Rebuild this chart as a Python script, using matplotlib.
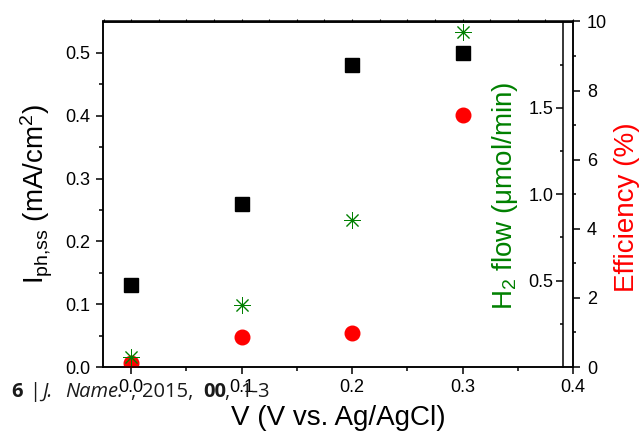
import matplotlib
matplotlib.use('Agg')
import matplotlib.pyplot as plt
import numpy as np

plt.rcParams['font.family'] = 'Liberation Sans'
plt.rcParams['mathtext.fontset'] = 'custom'
plt.rcParams['mathtext.rm'] = 'Liberation Sans'
plt.rcParams['mathtext.it'] = 'Liberation Sans:italic'
plt.rcParams['mathtext.default'] = 'regular'

# bias potential and measured quantities
volts = [0.0, 0.1, 0.2, 0.3]
iph = [0.13, 0.26, 0.48, 0.50]           # mA/cm2
h2_flow = [0.055, 0.36, 0.85, 1.94]      # umol/min
efficiency = [0.12, 0.87, 0.99, 7.3]     # %

green = '#008000'
red = '#ff0000'
lw = 1.1

fig = plt.figure(figsize=(6.41, 4.33), dpi=100)
ax = fig.add_axes([103/641, 1 - 367/433, 470/641, 345.5/433])

ax.plot(volts, iph, ls='none', marker='s', ms=9.5, color='black')
ax.set_xlim(-0.0255, 0.4)
ax.set_ylim(0, 0.55)
ax.set_xticks(np.arange(0, 0.41, 0.1))
ax.set_xticks(np.arange(0.05, 0.4, 0.1), minor=True)
ax.set_yticks(np.arange(0, 0.51, 0.1))
ax.set_yticks(np.arange(0.05, 0.55, 0.1), minor=True)
ax.set_xticklabels(['0.0', '0.1', '0.2', '0.3', '0.4'])
ax.set_yticklabels(['0.0', '0.1', '0.2', '0.3', '0.4', '0.5'])
ax.tick_params(which='both', direction='out', labelsize=13, width=lw, pad=4)
ax.tick_params(which='major', length=5)
ax.tick_params(which='minor', length=3)
for s in ax.spines.values():
    s.set_linewidth(lw)

ax.set_xlabel('V (V vs. Ag/AgCl)', fontsize=20)
ax.xaxis.set_label_coords(0.5, -0.109)
ax.set_ylabel(r'I$_{ph{,}ss}$ (mA/cm$^2$)', fontsize=20, va='center')
ax.yaxis.set_label_coords(-0.14, 0.5)

# small ticks along the top edge
top = ax.secondary_xaxis('top')
top.set_xticks(np.arange(-0.025, 0.401, 0.025))
top.tick_params(length=1.5, width=0.8, labeltop=False)
top.spines['top'].set_linewidth(lw)

# efficiency axis on the right edge
ax3 = ax.twinx()
ax3.plot(volts, efficiency, ls='none', marker='o', ms=10.5, color=red)
ax3.set_ylim(0, 10)
ax3.set_yticks(np.arange(0, 11, 2))
ax3.set_yticks(np.arange(1, 10, 2), minor=True)
ax3.tick_params(which='both', direction='out', labelsize=13, width=lw, pad=5)
ax3.tick_params(which='major', length=5)
ax3.tick_params(which='minor', length=2.5)
for s in ax3.spines.values():
    s.set_linewidth(lw)
ax3.set_ylabel('Efficiency (%)', fontsize=20, color=red, va='center', rotation=90)
ax3.yaxis.set_label_coords(1.115, 0.463)

# H2 flow axis, drawn just inside the right edge
ax2 = ax.twinx()
ax2.plot(volts, h2_flow, ls='none', marker=(8, 2, 0), ms=12, mew=0.7, color=green)
ax2.set_ylim(0, 2)
ax2.yaxis.tick_left()
ax2.yaxis.set_label_position('left')
for k in ['top', 'right', 'bottom']:
    ax2.spines[k].set_visible(False)
ax2.spines['left'].set_position(('axes', 460/470))
ax2.spines['left'].set_linewidth(lw)
ax2.set_yticks([0.5, 1.0, 1.5])
ax2.set_yticks([0.25, 0.75, 1.25, 1.75], minor=True)
ax2.set_yticklabels(['0.5', '1.0', '1.5'])
ax2.tick_params(which='both', direction='out', labelsize=13, width=lw, pad=2)
ax2.tick_params(which='major', length=5)
ax2.tick_params(which='minor', length=2.5)
ax2.set_ylabel(r'H$_2$ flow ($\mu$mol/min)', fontsize=20, color=green, va='center')
ax2.yaxis.set_label_coords(0.855, 0.495)

# journal page footer: (text, weight, style, left edge in pixels)
parts = [('6', 'bold', 'normal', 11), ('|', 'normal', 'normal', 29),
         ('J.', 'normal', 'italic', 42), ('Name.', 'normal', 'italic', 65),
         (',', 'normal', 'normal', 130), ('2015,', 'normal', 'normal', 142),
         ('00', 'bold', 'normal', 203), (',', 'normal', 'normal', 224),
         ('1-3', 'normal', 'normal', 240)]
for txt, wt, st, px in parts:
    fig.text(px/641, 1 - 397/433, txt, fontsize=14.5, family='Open Sans',
             weight=wt, style=st, color='#1a1a1a', va='baseline', zorder=10)

fig.savefig('out.png', dpi=100)
